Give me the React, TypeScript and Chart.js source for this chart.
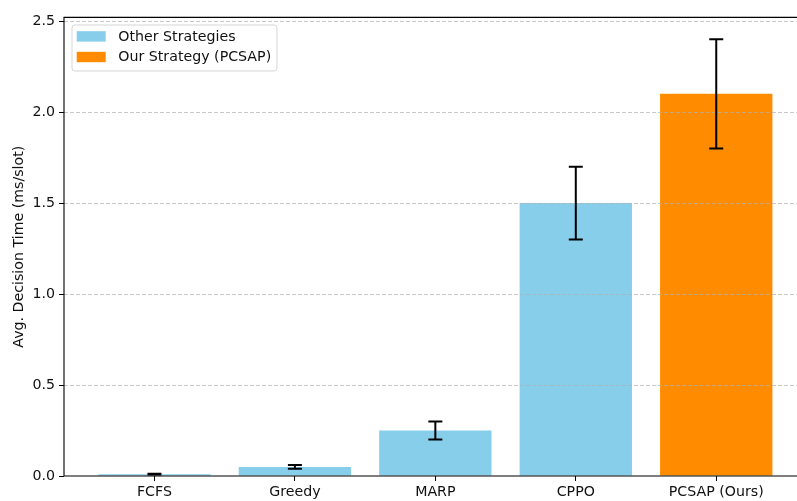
import React, { useEffect, useRef } from "react";
import { Chart, registerables } from "chart.js";

Chart.register(...registerables);

const categories = ["FCFS", "Greedy", "MARP", "CPPO", "PCSAP (Ours)"];
const otherValues = [0.01, 0.05, 0.25, 1.5];
const otherErrors = [0.002, 0.01, 0.05, 0.2];
const oursValues = [2.1];
const oursErrors = [0.3];
const yTicks = [0, 0.5, 1.0, 1.5, 2.0, 2.5];
const legendLabels = ["Other Strategies", "Our Strategy (PCSAP)"];
const yTitle = "Avg. Decision Time (ms/slot)";

const OTHER_COLOR = "#87CEEB";
const OURS_COLOR = "#FF8C00";
const FONT_FAMILY = "'DejaVu Sans', sans-serif";
const FONT_SIZE = 14.2;

const decorPlugin = {
  id: "decor",
  afterDraw(chart: any) {
    const { ctx, chartArea: a, scales } = chart;
    const xs = scales.x;
    const ys = scales.y;
    ctx.save();

    // error bars
    const bars: { i: number; v: number; e: number }[] = [];
    otherValues.forEach((v, i) => bars.push({ i, v, e: otherErrors[i] }));
    oursValues.forEach((v, k) => bars.push({ i: otherValues.length + k, v, e: oursErrors[k] }));
    ctx.strokeStyle = "#000";
    ctx.lineWidth = 2;
    ctx.setLineDash([]);
    bars.forEach(({ i, v, e }) => {
      const x = xs.getPixelForValue(i);
      const y1 = ys.getPixelForValue(v + e);
      const y2 = ys.getPixelForValue(v - e);
      ctx.beginPath();
      ctx.moveTo(x, y1);
      ctx.lineTo(x, y2);
      ctx.moveTo(x - 7, y1);
      ctx.lineTo(x + 7, y1);
      ctx.moveTo(x - 7, y2);
      ctx.lineTo(x + 7, y2);
      ctx.stroke();
    });

    // spines (left, bottom, top)
    ctx.strokeStyle = "#000";
    ctx.lineWidth = 1.1;
    ctx.beginPath();
    ctx.moveTo(a.right + 1, a.top);
    ctx.lineTo(a.left, a.top);
    ctx.lineTo(a.left, a.bottom);
    ctx.lineTo(a.right + 1, a.bottom);
    ctx.stroke();

    // legend
    const lx = a.left + 8;
    const ly = a.top + 7.6;
    const lw = 205;
    const lh = 46;
    ctx.beginPath();
    if ((ctx as any).roundRect) (ctx as any).roundRect(lx, ly, lw, lh, 3);
    else ctx.rect(lx, ly, lw, lh);
    ctx.fillStyle = "rgba(255,255,255,0.8)";
    ctx.fill();
    ctx.strokeStyle = "rgba(204,204,204,0.8)";
    ctx.lineWidth = 1;
    ctx.stroke();
    const colors = [OTHER_COLOR, OURS_COLOR];
    ctx.font = `${FONT_SIZE}px ${FONT_FAMILY}`;
    ctx.textBaseline = "middle";
    ctx.textAlign = "left";
    legendLabels.forEach((label, k) => {
      const cy = ly + 11.4 + k * 20.6;
      ctx.fillStyle = colors[k];
      ctx.fillRect(lx + 4.7, cy - 5.2, 29, 10.4);
      ctx.fillStyle = "#111";
      ctx.fillText(label, lx + 46.3, cy + 0.5);
    });
    ctx.restore();
  },
};

export default function App() {
  const canvasRef = useRef<HTMLCanvasElement | null>(null);

  useEffect(() => {
    const canvas = canvasRef.current;
    if (!canvas) return;
    const font = { family: FONT_FAMILY, size: FONT_SIZE };
    const chart = new Chart(canvas, {
      type: "bar",
      data: {
        datasets: [
          {
            label: legendLabels[0],
            data: otherValues.map((v, i) => ({ x: i, y: v })),
            backgroundColor: OTHER_COLOR,
            borderWidth: 0,
          },
          {
            label: legendLabels[1],
            data: oursValues.map((v, k) => ({ x: otherValues.length + k, y: v })),
            backgroundColor: OURS_COLOR,
            borderWidth: 0,
          },
        ],
      } as any,
      options: {
        responsive: false,
        animation: false,
        devicePixelRatio: 1,
        grouped: false,
        categoryPercentage: 1,
        barPercentage: 0.8,
        layout: { padding: { top: 17.4, left: 0, right: 0, bottom: 0 } },
        plugins: {
          legend: { display: false },
          tooltip: { enabled: false },
        },
        scales: {
          x: {
            type: "linear",
            min: -0.644,
            max: 4.575,
            offset: false,
            afterFit(s: any) {
              s.height = 25;
            },
            afterBuildTicks(s: any) {
              s.ticks = categories.map((_, i) => ({ value: i }));
            },
            ticks: {
              autoSkip: false,
              maxRotation: 0,
              minRotation: 0,
              font,
              color: "#111",
              padding: 3,
              callback: (v: any) => categories[Number(v)] ?? "",
            },
            grid: {
              offset: false,
              drawOnChartArea: false,
              drawTicks: true,
              tickLength: 5,
              tickColor: "#000",
              tickWidth: 1,
            },
            border: { display: false },
          },
          y: {
            type: "linear",
            min: 0,
            max: 2.52,
            afterFit(s: any) {
              s.width = 64;
            },
            afterBuildTicks(s: any) {
              s.ticks = yTicks.map((v) => ({ value: v }));
            },
            ticks: {
              font,
              color: "#111",
              padding: 4,
              callback: (v: any) => Number(v).toFixed(1),
            },
            grid: {
              z: 1,
              color: (c: any) =>
                c.tick && c.tick.value === 0 ? "rgba(0,0,0,0)" : "rgba(176,176,176,0.7)",
              lineWidth: 1,
              drawTicks: true,
              tickLength: 5,
              tickColor: "#000",
              tickWidth: 1,
              tickBorderDash: [],
            },
            border: { display: false, dash: [4, 2] },
            title: {
              display: true,
              text: yTitle,
              font,
              color: "#111",
              padding: { top: 11, bottom: 0 },
            },
          },
        },
      } as any,
      plugins: [decorPlugin],
    });
    return () => chart.destroy();
  }, []);

  return (
    <div style={{ position: "absolute", left: 0, top: 0, width: 797, height: 501, background: "#fff" }}>
      <canvas ref={canvasRef} width={797} height={501} style={{ display: "block" }} />
    </div>
  );
}
